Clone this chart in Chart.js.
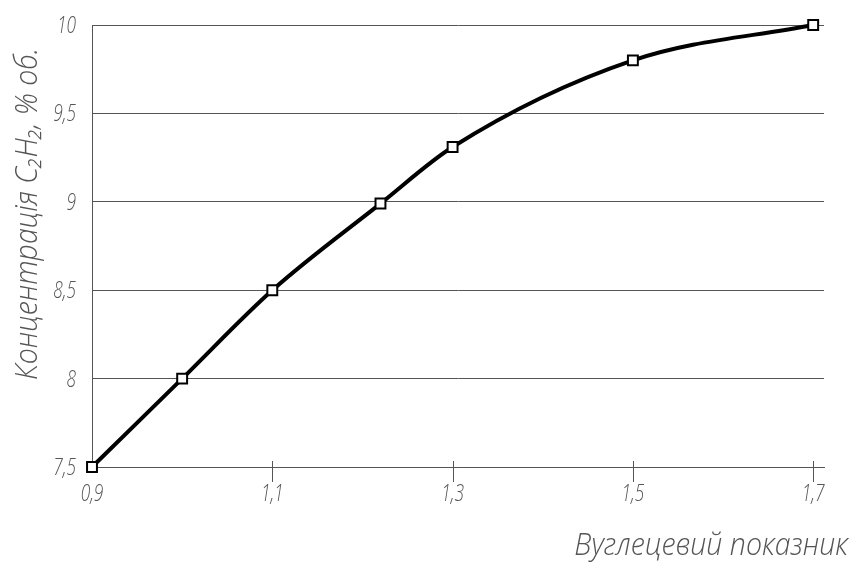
<!DOCTYPE html>
<html>
<head>
<meta charset="utf-8">
<script src="https://cdn.jsdelivr.net/npm/chart.js@4.4.0/dist/chart.umd.min.js"></script>
<style>
  html, body { margin: 0; padding: 0; background: #fff; }
  #wrap { width: 851px; height: 563px; }
</style>
</head>
<body>
<div id="wrap"><canvas id="chart" width="851" height="563"></canvas></div>
<script>
// values
const carbonIndex = [0.9, 1.0, 1.1, 1.22, 1.3, 1.5, 1.7];
const acetylene = [7.5, 8.0, 8.5, 8.99, 9.31, 9.8, 10.0];
const xTicks = [0.9, 1.1, 1.3, 1.5, 1.7];
const yTicks = [7.5, 8, 8.5, 9, 9.5, 10];
const xTitle = "Вуглецевий показник";
const yTitle = "Концентрація C₂H₂, % об.";

const FONT = "'Open Sans', 'DejaVu Sans', sans-serif";
const comma = v => String(v).replace(".", ",");

// narrow, thin text like the drafting font of the original
function narrowText(ctx, text, x, y, size, squeeze, align, baseline) {
  ctx.save();
  ctx.translate(x, y);
  ctx.scale(squeeze, 1);
  ctx.font = "italic 300 " + size + "px " + FONT;
  ctx.textAlign = align;
  ctx.textBaseline = baseline || "alphabetic";
  ctx.fillText(text, 0, 0);
  ctx.restore();
}

// tick marks crossing the x axis, tick labels and axis titles
const drawingExtras = {
  id: "drawingExtras",
  afterDraw(chart) {
    const ctx = chart.ctx;
    const xs = chart.scales.x;
    const ys = chart.scales.y;
    const area = chart.chartArea;
    ctx.save();
    ctx.strokeStyle = "#555";
    ctx.lineWidth = 1;
    xs.ticks.slice(1).forEach(t => {
      const px = Math.round(xs.getPixelForValue(t.value)) + 0.5;
      ctx.beginPath();
      ctx.moveTo(px, area.bottom - 6);
      ctx.lineTo(px, area.bottom + 15);
      ctx.stroke();
    });

    ctx.fillStyle = "#555";
    xs.ticks.forEach(t => {
      narrowText(ctx, comma(t.value), xs.getPixelForValue(t.value), area.bottom + 34, 24, 0.72, "center");
    });
    ys.ticks.forEach(t => {
      narrowText(ctx, comma(t.value), area.left - 16, ys.getPixelForValue(t.value) + 8, 24, 0.72, "right");
    });

    narrowText(ctx, xTitle, 848, 555, 31, 0.92, "right");

    ctx.translate(37, 380);
    ctx.rotate(-Math.PI / 2);
    narrowText(ctx, yTitle, 0, 0, 31, 0.92, "left");
    ctx.restore();
  }
};

new Chart(document.getElementById("chart"), {
  type: "line",
  data: {
    datasets: [{
      data: carbonIndex.map((c, i) => ({ x: c, y: acetylene[i] })),
      borderColor: "#000",
      borderWidth: 4,
      cubicInterpolationMode: "monotone",
      pointStyle: "rect",
      pointRadius: 7,
      pointBorderWidth: 2,
      pointBackgroundColor: "#fff",
      pointBorderColor: "#000",
      clip: false,
      fill: false
    }]
  },
  options: {
    responsive: false,
    animation: false,
    layout: { padding: { top: 25, right: 27, left: 0, bottom: 0 } },
    plugins: { legend: { display: false }, tooltip: { enabled: false } },
    scales: {
      x: {
        type: "linear",
        min: 0.9,
        max: 1.712,
        afterBuildTicks: s => { s.ticks = xTicks.map(v => ({ value: v })); },
        afterFit: s => { s.height = 96; },
        grid: { display: false, drawTicks: false },
        border: { display: true, color: "#555", width: 1 },
        ticks: { display: false }
      },
      y: {
        type: "linear",
        min: 7.5,
        max: 10,
        afterBuildTicks: s => { s.ticks = yTicks.map(v => ({ value: v })); },
        afterFit: s => { s.width = 92; },
        grid: { color: "#555", lineWidth: 1, drawTicks: false },
        border: { display: true, color: "#555", width: 1 },
        ticks: { display: false }
      }
    }
  },
  plugins: [drawingExtras]
});
</script>
</body>
</html>
